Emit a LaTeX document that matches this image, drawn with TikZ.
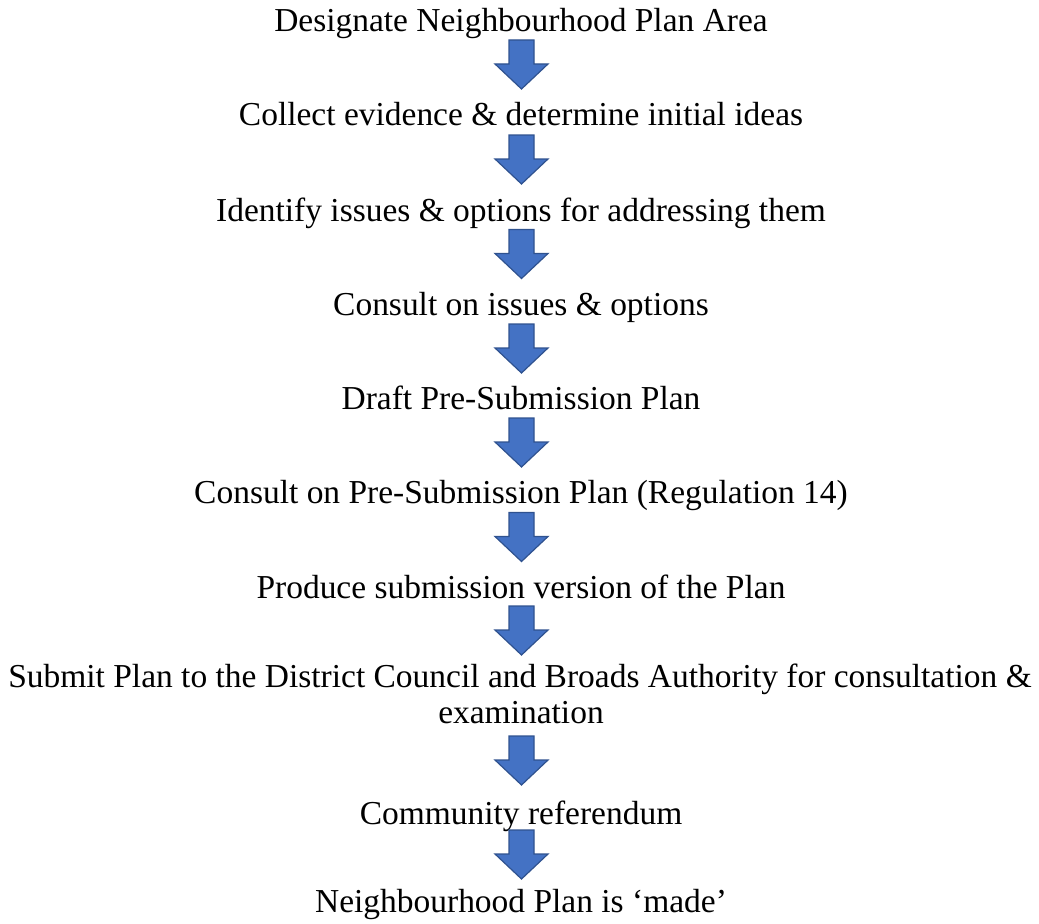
\documentclass[tikz,border=0pt]{standalone}
\usepackage{fontspec}
\setmainfont{Liberation Serif}
\definecolor{arrowfill}{HTML}{4472C4}
\definecolor{arrowline}{HTML}{2F528F}
\tikzset{
  steptext/.style={anchor=base, inner sep=0pt, font=\fontsize{25.1}{36}\selectfont, text=black},
  blockarrow/.pic={
    \draw[fill=arrowfill, draw=arrowline, line width=0.9pt, line join=miter]
      (-12.5,0) -- (12.5,0) -- (12.5,24) -- (26.5,24) -- (0,49) -- (-26.5,24) -- (-12.5,24) -- cycle;
  }
}
\begin{document}
\begin{tikzpicture}[x=0.75pt, y=-0.75pt]
\useasboundingbox (0,0) rectangle (1039,924);
\node[steptext] (s1) at (521,31.7) {Designate Neighbourhood Plan Area};
\node[steptext] (s2) at (521,126) {Collect evidence \& determine initial ideas};
\node[steptext] (s3) at (521,221.5) {Identify issues \& options for addressing them};
\node[steptext] (s4) at (521,315) {Consult on issues \& options};
\node[steptext] (s5) at (521,409) {Draft Pre-Submission Plan};
\node[steptext] (s6) at (521,503.5) {Consult on Pre-Submission Plan (Regulation 14)};
\node[steptext] (s7) at (521,598) {Produce submission version of the Plan};
\node[steptext] (s8a) at (520,687) {Submit Plan to the District Council and Broads Authority for consultation \&};
\node[steptext] (s8) at (521,723) {examination};
\node[steptext] (s9) at (521,824) {Community referendum};
\node[steptext] (s10) at (521,912) {Neighbourhood Plan is ‘made’};
\pic at (521.5,40) {blockarrow};
\pic at (521.5,135) {blockarrow};
\pic at (521.5,229.5) {blockarrow};
\pic at (521.5,324) {blockarrow};
\pic at (521.5,418) {blockarrow};
\pic at (521.5,512.5) {blockarrow};
\pic at (521.5,606) {blockarrow};
\pic at (521.5,736) {blockarrow};
\pic at (521.5,830) {blockarrow};
\end{tikzpicture}
\end{document}
